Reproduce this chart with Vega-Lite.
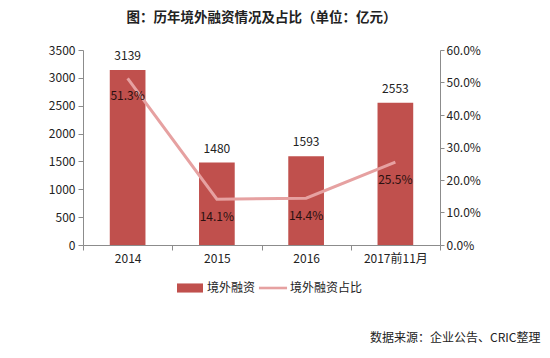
{
  "$schema": "https://vega.github.io/schema/vega-lite/v6.json",
  "width": 357,
  "height": 195,
  "autosize": {"type": "none"},
  "padding": {"left": 83, "top": 50, "right": 110, "bottom": 113},
  "background": "white",
  "config": {
    "font": "Noto Sans CJK SC",
    "view": {"stroke": null},
    "axis": {"grid": false, "labelFontSize": 12, "labelColor": "#222", "domainColor": "#8c8c8c", "tickColor": "#8c8c8c", "labelFont": "Noto Sans CJK SC"}
  },
  "title": {"text": "图：历年境外融资情况及占比（单位：亿元）", "fontSize": 13.5, "fontWeight": "bold", "color": "#222", "anchor": "middle", "frame": "group", "offset": 20},
  "data": {"values": [
    {"year": "2014", "amount": 3139, "ratio": 0.513},
    {"year": "2015", "amount": 1480, "ratio": 0.141},
    {"year": "2016", "amount": 1593, "ratio": 0.144},
    {"year": "2017前11月", "amount": 2553, "ratio": 0.255}
  ]},
  "encoding": {
    "x": {"field": "year", "type": "nominal", "sort": null,
      "scale": {"paddingInner": 0, "paddingOuter": 0},
      "axis": {"labelAngle": 0, "tickBand": "extent", "tickSize": 5, "labelPadding": 3,
        "title": "数据来源：企业公告、CRIC整理", "titleX": 457, "titleY": 92, "titleAlign": "right", "titleAnchor": "end", "titleBaseline": "middle", "titleFontSize": 12, "titleFontWeight": "normal", "titleColor": "#222"}}
  },
  "layer": [
    {
      "encoding": {
        "y": {"field": "amount", "type": "quantitative", "scale": {"domain": [0, 3500], "nice": false},
          "axis": {"orient": "left", "values": [0, 500, 1000, 1500, 2000, 2500, 3000, 3500], "format": "d", "title": null, "tickSize": 5, "labelPadding": 3}}
      },
      "layer": [
        {"mark": {"type": "bar", "width": {"band": 0.4}},
         "encoding": {"color": {"datum": "境外融资", "type": "nominal",
           "scale": {"domain": ["境外融资", "境外融资占比"], "range": ["#C0504D", "#E6A1A1"]},
           "legend": {"title": null, "orient": "none", "legendX": 94, "legendY": 225, "direction": "horizontal",
             "labelFontSize": 12, "labelColor": "#222", "labelOffset": 4, "columnPadding": 2, "symbolSize": 676,
             "encode": {"symbols": {"update": {
               "shape": {"signal": "datum.value === '境外融资' ? 'M-1,-0.35H1V0.35H-1Z' : 'M-1.08,-0.1H1.08V0.1H-1.08Z'"},
               "fill": {"scale": "color", "field": "value"},
               "stroke": {"value": "transparent"},
               "strokeWidth": {"value": 0},
               "opacity": {"value": 1},
               "size": {"value": 676}}}}}}}},
        {"mark": {"type": "text", "baseline": "bottom", "dy": -7, "fontSize": 12, "color": "#222"},
         "encoding": {"text": {"field": "amount", "type": "quantitative"}}}
      ]
    },
    {
      "encoding": {
        "y": {"field": "ratio", "type": "quantitative", "scale": {"domain": [0, 0.6], "nice": false},
          "axis": {"orient": "right", "values": [0, 0.1, 0.2, 0.3, 0.4, 0.5, 0.6], "format": ".1%", "title": null, "tickSize": 4, "labelPadding": 2}}
      },
      "layer": [
        {"mark": {"type": "line", "strokeWidth": 3},
         "encoding": {"color": {"datum": "境外融资占比", "type": "nominal"}}},
        {"mark": {"type": "text", "baseline": "middle", "dy": 18, "fontSize": 12, "color": "#2a1010"},
         "encoding": {"text": {"field": "ratio", "type": "quantitative", "format": ".1%"}}}
      ]
    }
  ],
  "resolve": {"scale": {"y": "independent"}}
}
